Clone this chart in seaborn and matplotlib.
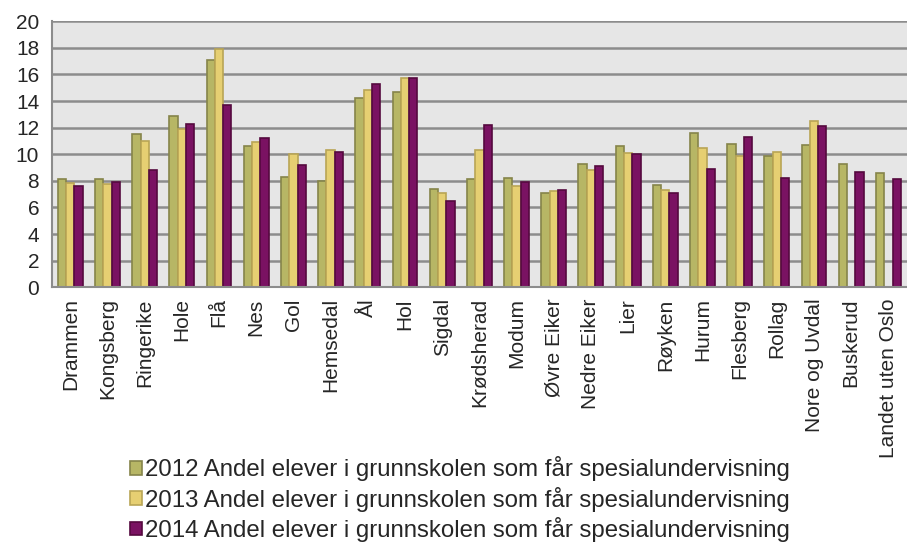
import numpy as np
import pandas as pd
import matplotlib
matplotlib.use("Agg")
import matplotlib.pyplot as plt
import seaborn as sns

sns.set_style("white")
plt.rcParams['font.family'] = ['Liberation Sans', 'DejaVu Sans']

# data
kommuner = ['Drammen', 'Kongsberg', 'Ringerike', 'Hole', 'Flå', 'Nes', 'Gol',
            'Hemsedal', 'Ål', 'Hol', 'Sigdal', 'Krødsherad', 'Modum',
            'Øvre Eiker', 'Nedre Eiker', 'Lier', 'Røyken', 'Hurum', 'Flesberg',
            'Rollag', 'Nore og Uvdal', 'Buskerud', 'Landet uten Oslo']
v2012 = [8.1, 8.1, 11.5, 12.9, 17.1, 10.6, 8.3, 8.0, 14.2, 14.7, 7.4, 8.1, 8.2,
         7.1, 9.3, 10.6, 7.7, 11.6, 10.8, 9.9, 10.7, 9.3, 8.6]
v2013 = [7.8, 7.75, 11.0, 11.9, 17.9, 10.9, 10.0, 10.3, 14.8, 15.7, 7.1, 10.3, 7.6,
         7.2, 8.8, 10.1, 7.3, 10.5, 9.9, 10.2, 12.5, np.nan, np.nan]
v2014 = [7.6, 7.9, 8.8, 12.3, 13.7, 11.2, 9.2, 10.2, 15.3, 15.7, 6.5, 12.2, 7.9,
         7.3, 9.1, 10.0, 7.1, 8.9, 11.3, 8.2, 12.1, 8.7, 8.1]
serier = ['2012 Andel elever i grunnskolen som får spesialundervisning',
          '2013 Andel elever i grunnskolen som får spesialundervisning',
          '2014 Andel elever i grunnskolen som får spesialundervisning']

df = pd.DataFrame({'kommune': kommuner * 3,
                   'serie': [serier[0]] * len(kommuner) + [serier[1]] * len(kommuner)
                            + [serier[2]] * len(kommuner),
                   'verdi': v2012 + v2013 + v2014})

farger = ['#B7B665', '#E6CF72', '#7A1262']
kanter = ['#85844A', '#B9A555', '#55093F']

fig = plt.figure(figsize=(9.07, 5.44), dpi=100)
ax = fig.add_axes([0.057, 0.472, 0.943, 0.489])
ax.set_facecolor('#E6E6E6')

sns.barplot(data=df, x='kommune', y='verdi', hue='serie', order=kommuner,
            hue_order=serier, palette=farger, width=0.67, saturation=1,
            ax=ax, legend=True)
for cont, kc in zip(ax.containers, kanter):
    for b in cont:
        b.set_edgecolor(kc)
        b.set_linewidth(1.2)

ax.set_ylim(0, 20)
ax.set_xlim(-0.5, len(kommuner) - 0.5)
ax.set_yticks(range(0, 21, 2))
ax.yaxis.grid(True, color='#8C8C8C', linewidth=1.8)
ax.set_axisbelow(True)
ax.set_xlabel('')
ax.set_ylabel('')

ax.set_xticks(np.arange(-0.5, len(kommuner), 1.0), minor=True)
ax.tick_params(axis='x', which='major', length=0, pad=8, labelsize=15, rotation=90)
ax.tick_params(axis='x', which='minor', length=5, color='#8C8C8C', width=1.5)
ax.tick_params(axis='y', length=5, color='#8C8C8C', width=1.5, labelsize=15, pad=4)
for lbl in ax.get_xticklabels():
    lbl.set_verticalalignment('top')

for s in ['top', 'right']:
    ax.spines[s].set_visible(False)
for s in ['left', 'bottom']:
    ax.spines[s].set_color('#8C8C8C')
    ax.spines[s].set_linewidth(1.5)

handles, labels = ax.get_legend_handles_labels()
ax.get_legend().remove()
for h, kc in zip(handles, kanter):
    h.set_edgecolor(kc)
    h.set_linewidth(1.2)
fig.legend(handles, labels, loc='upper left', bbox_to_anchor=(0.143, 0.161),
           frameon=False, fontsize=17.3, handlelength=0.5, handleheight=0.5,
           handletextpad=0.12, labelspacing=0.22, borderaxespad=0,
           borderpad=0)

fig.savefig('out.png', dpi=100)
